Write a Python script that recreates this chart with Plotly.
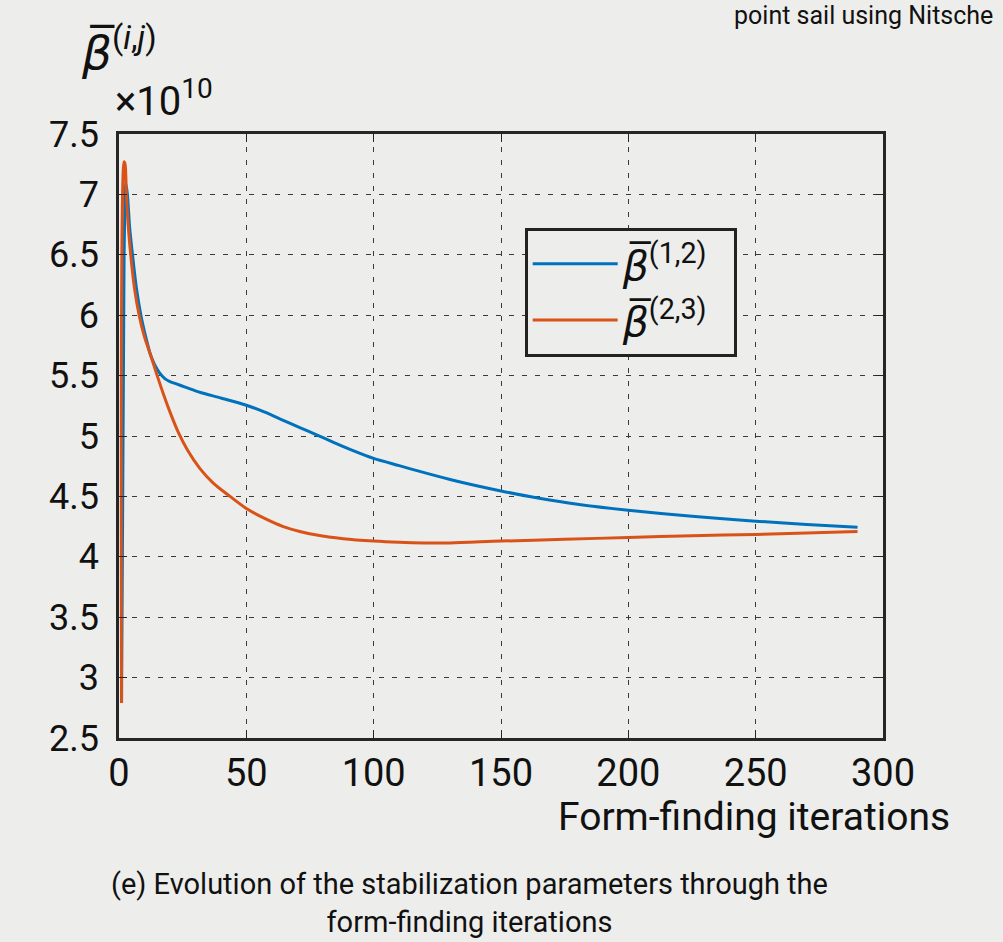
import plotly.graph_objects as go

# Data (values in units of 1e10)
iter_12 = [1, 2, 2.7, 3.3, 4.2, 5.3, 6.8, 8.6, 10.5, 12.4, 14, 16, 18, 20, 22, 26, 32, 40, 50, 57,
           64.5, 71, 77.6, 84, 90.7, 100, 110, 117, 130, 140, 150, 165, 180, 200, 225, 250, 270, 290]
beta_12 = [2.79, 6.5, 7.09, 7.0, 6.72, 6.5, 6.23, 6.0, 5.82, 5.67, 5.59, 5.52, 5.475, 5.45, 5.435, 5.405,
           5.36, 5.315, 5.255, 5.20, 5.13, 5.07, 5.01, 4.95, 4.89, 4.815, 4.755, 4.713, 4.64, 4.59, 4.545,
           4.485, 4.435, 4.385, 4.335, 4.295, 4.268, 4.245]

iter_23 = [1, 2, 2.4, 2.9, 3.7, 4.6, 6.1, 7.9, 10, 12.4, 15, 17.4, 20, 23.3, 27, 31.8, 37, 43.6, 50,
           57, 64.5, 71, 77.6, 88, 100, 110, 120, 130, 150, 175, 200, 225, 250, 270, 290]
beta_23 = [2.79, 7.27, 7.25, 7.0, 6.72, 6.5, 6.22, 6.0, 5.82, 5.67, 5.5, 5.35, 5.2, 5.03, 4.88, 4.73,
           4.61, 4.5, 4.40, 4.32, 4.25, 4.21, 4.18, 4.15, 4.13, 4.12, 4.115, 4.115, 4.13, 4.145,
           4.16, 4.175, 4.185, 4.198, 4.21]

x_ticks = [0, 50, 100, 150, 200, 250, 300]
y_ticks = [2.5, 3, 3.5, 4, 4.5, 5, 5.5, 6, 6.5, 7, 7.5]
y_ticktext = ["2.5", "3", "3.5", "4", "4.5", "5", "5.5", "6", "6.5", "7", "7.5"]

name_12 = "<i>β\u0305</i><sup>(1,2)</sup>\u00a0\u00a0"
name_23 = "<i>β\u0305</i><sup>(2,3)</sup>\u00a0\u00a0"

BG = "#EDEDEB"
FONT = "Roboto, DejaVu Sans, sans-serif"

fig = go.Figure()
fig.add_trace(go.Scatter(x=iter_12, y=beta_12, mode="lines", name=name_12,
                         line=dict(color="#0072BD", width=3, shape="spline", smoothing=0.8)))
fig.add_trace(go.Scatter(x=iter_23, y=beta_23, mode="lines", name=name_23,
                         line=dict(color="#D95319", width=3, shape="spline", smoothing=0.8)))

axis_common = dict(
    showline=True, linecolor="#262626", linewidth=2.5, mirror="ticks",
    ticks="inside", ticklen=8, tickcolor="#262626", tickwidth=1,
    showgrid=True, gridcolor="#3a3a3a", gridwidth=1, griddash="5px,8px",
    zeroline=False,
)

fig.update_layout(
    width=1003, height=942,
    margin=dict(l=119, r=120, t=134, b=204),
    paper_bgcolor=BG, plot_bgcolor=BG,
    font=dict(family=FONT, color="#111111"),
    showlegend=True,
    legend=dict(
        x=0.531, y=0.845, xanchor="left", yanchor="top",
        bgcolor=BG, bordercolor="#222222", borderwidth=3,
        font=dict(family=FONT, size=41, color="#111111"),
        itemwidth=85, tracegroupgap=0,
    ),
    xaxis=dict(range=[0, 300], tickvals=x_ticks, ticklabelstandoff=0,
               tickfont=dict(family=FONT, size=38, color="#111111"), **axis_common),
    yaxis=dict(range=[2.5, 7.5], tickvals=y_ticks, ticktext=y_ticktext,
               ticklabelstandoff=10,
               tickfont=dict(family=FONT, size=36, color="#111111"), **axis_common),
)

annotations = [
    dict(text="<i>β\u0305</i><sup>(<i>i</i>,<i>j</i>)</sup>", xref="paper", yref="paper",
         x=-0.052, y=1.14, xanchor="left", yanchor="middle", showarrow=False,
         font=dict(family=FONT, size=47, color="#111111")),
    dict(text="×10<sup>10</sup>", xref="paper", yref="paper",
         x=-0.008, y=1.058, xanchor="left", yanchor="middle", showarrow=False,
         font=dict(family=FONT, size=40, color="#111111")),
    dict(text="Form-finding iterations", xref="paper", yref="paper",
         x=1.09, y=-0.13, xanchor="right", yanchor="middle", showarrow=False,
         font=dict(family=FONT, size=39, color="#111111")),
    dict(text="(e) Evolution of the stabilization parameters through the<br>form-finding iterations",
         xref="paper", yref="paper", x=0.459, y=-0.273, xanchor="center", yanchor="middle",
         showarrow=False, align="center",
         font=dict(family=FONT, size=29, color="#111111")),
    dict(text="point sail using Nitsche", xref="paper", yref="paper",
         x=1.147, y=1.197, xanchor="right", yanchor="middle", showarrow=False,
         font=dict(family=FONT, size=25, color="#111111")),
]
fig.update_layout(annotations=annotations)

fig.write_html(
    "out.html",
    config={"displayModeBar": False},
    post_script="document.body.style.margin='0';document.body.style.background='%s';" % BG,
)
